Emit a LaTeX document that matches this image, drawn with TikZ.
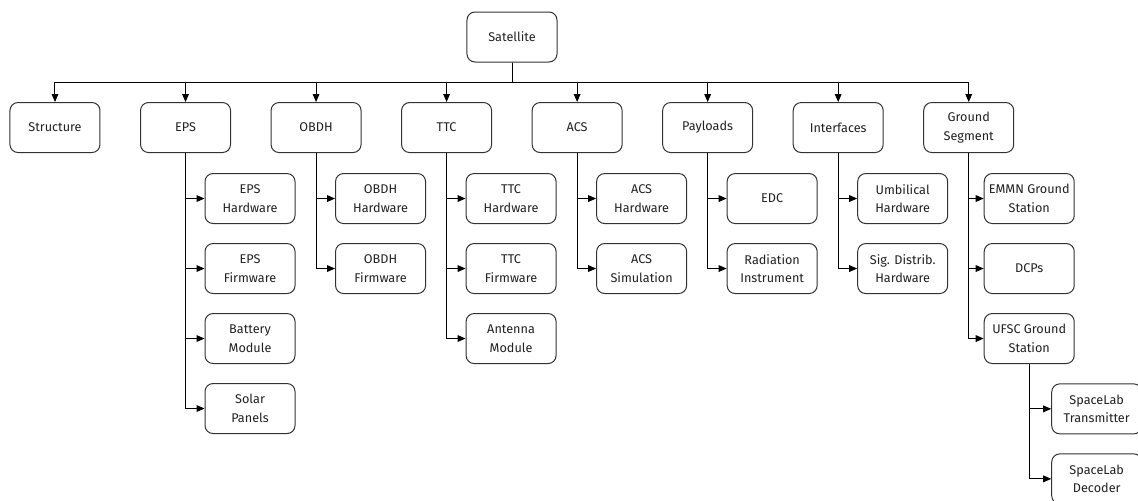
\documentclass[tikz,border=0pt]{standalone}
\usepackage{fontspec}
\setmainfont{Fira Sans}
\usetikzlibrary{arrows.meta,positioning}
\definecolor{bordgris}{HTML}{333333}
\definecolor{textegris}{HTML}{222222}

\begin{document}
\begin{tikzpicture}[
    font=\fontsize{9.5}{14}\selectfont,
    bloc/.style={rectangle, rounded corners=6pt, draw=bordgris, line width=0.75pt,
      fill=white, text=textegris, minimum width=67.5pt, minimum height=37.5pt,
      align=center, inner sep=2pt},
    lien/.style={-{Triangle[length=6pt,width=5pt]}, draw=black, line width=0.75pt}
  ]
    \useasboundingbox (-384pt,27.75pt) rectangle (469.5pt,-347.25pt);
    \clip (-384pt,27.75pt) rectangle (469.5pt,-347.25pt);
    % top of the tree
    \node[bloc] (sat) at (0,0) {Satellite};
    \coordinate (bus) at ([yshift=-15pt]sat.south);
    % subsystems
    \node[bloc] (struct) at (-342.75pt,-67.9pt) {Structure};
    \node[bloc, right=29.65pt of struct] (eps) {EPS};
    \node[bloc, right=29.65pt of eps] (obdh) {OBDH};
    \node[bloc, right=29.65pt of obdh] (ttc) {TTC};
    \node[bloc, right=29.65pt of ttc] (acs) {ACS};
    \node[bloc, right=29.65pt of acs] (pay) {Payloads};
    \node[bloc, right=29.65pt of pay] (inter) {Interfaces};
    \node[bloc, right=29.65pt of inter] (gseg) {Ground\\ Segment};
    % EPS
    \node[bloc, anchor=north west] (epshw) at ([xshift=14.25pt, yshift=-15pt]eps.south) {EPS\\ Hardware};
    \node[bloc, below=14.25pt of epshw] (epsfw) {EPS\\ Firmware};
    \node[bloc, below=14.25pt of epsfw] (batt) {Battery\\ Module};
    \node[bloc, below=14.25pt of batt] (solar) {Solar\\ Panels};
    % OBDH
    \node[bloc, anchor=north west] (obdhhw) at ([xshift=14.25pt, yshift=-15pt]obdh.south) {OBDH\\ Hardware};
    \node[bloc, below=14.25pt of obdhhw] (obdhfw) {OBDH\\ Firmware};
    % TTC
    \node[bloc, anchor=north west] (ttchw) at ([xshift=14.25pt, yshift=-15pt]ttc.south) {TTC\\ Hardware};
    \node[bloc, below=14.25pt of ttchw] (ttcfw) {TTC\\ Firmware};
    \node[bloc, below=14.25pt of ttcfw] (ant) {Antenna\\ Module};
    % ACS
    \node[bloc, anchor=north west] (acshw) at ([xshift=14.25pt, yshift=-15pt]acs.south) {ACS\\ Hardware};
    \node[bloc, below=14.25pt of acshw] (acssim) {ACS\\ Simulation};
    % Payloads
    \node[bloc, anchor=north west] (edc) at ([xshift=14.25pt, yshift=-15pt]pay.south) {EDC};
    \node[bloc, below=14.25pt of edc] (rad) {Radiation\\ Instrument};
    % Interfaces
    \node[bloc, anchor=north west] (umb) at ([xshift=14.25pt, yshift=-15pt]inter.south) {Umbilical\\ Hardware};
    \node[bloc, below=14.25pt of umb] (sig) {Sig. Distrib.\\ Hardware};
    % Ground Segment
    \node[bloc, anchor=north west] (emmn) at ([xshift=11.25pt, yshift=-15pt]gseg.south) {EMMN Ground\\ Station};
    \node[bloc, below=14.25pt of emmn] (dcp) {DCPs};
    \node[bloc, below=14.25pt of dcp] (ufsc) {UFSC Ground\\ Station};
    \node[bloc, anchor=north west] (sltx) at ([xshift=16.5pt, yshift=-14.5pt]ufsc.south) {SpaceLab\\ Transmitter};
    \node[bloc, below=14.25pt of sltx] (sldec) {SpaceLab\\ Decoder};
    % connectors
    \foreach \n in {struct,eps,obdh,ttc,acs,pay,inter,gseg}
      \draw[lien] (sat.south) -- (bus) -| (\n.north);
    \foreach \n in {epshw,epsfw,batt,solar}
      \draw[lien] (eps.south) |- (\n.west);
    \foreach \n in {obdhhw,obdhfw}
      \draw[lien] (obdh.south) |- (\n.west);
    \foreach \n in {ttchw,ttcfw,ant}
      \draw[lien] (ttc.south) |- (\n.west);
    \foreach \n in {acshw,acssim}
      \draw[lien] (acs.south) |- (\n.west);
    \foreach \n in {edc,rad}
      \draw[lien] (pay.south) |- (\n.west);
    \foreach \n in {umb,sig}
      \draw[lien] (inter.south) |- (\n.west);
    \foreach \n in {emmn,dcp,ufsc}
      \draw[lien] (gseg.south) |- (\n.west);
    \foreach \n in {sltx,sldec}
      \draw[lien] (ufsc.south) |- (\n.west);
  \end{tikzpicture}
\end{document}
